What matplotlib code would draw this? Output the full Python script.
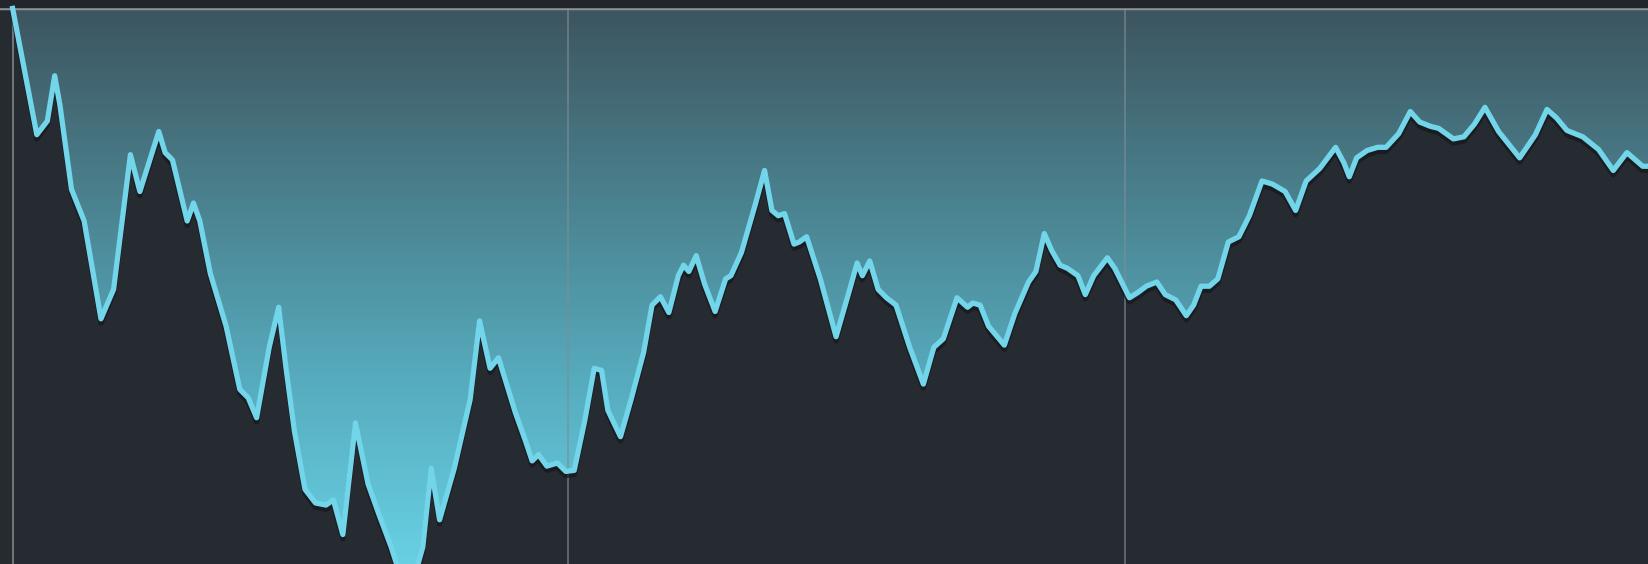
import matplotlib
matplotlib.use("Agg")
import matplotlib.pyplot as plt
import matplotlib.patheffects as pe
import numpy as np
from matplotlib.colors import LinearSegmentedColormap

# time index and level
t = [12, 22, 35, 45, 52, 57, 68, 72, 80, 96, 108, 124, 133, 151, 157, 164, 178, 184,
     190, 200, 215, 228, 236, 244, 256, 265, 272, 280, 290, 300, 310, 317, 326, 338,
     350, 360, 372, 380, 395, 402, 410, 418, 432, 447, 456, 466, 474, 490, 500, 506,
     512, 520, 530, 538, 546, 556, 565, 572, 578, 590, 600, 612, 620, 628, 636, 645,
     650, 655, 662, 670, 680, 690, 695, 705, 718, 727, 734, 740, 746, 755, 760, 767,
     780, 795, 808, 815, 820, 827, 835, 843, 852, 865, 878, 888, 897, 910, 920, 925,
     932, 940, 955, 965, 978, 985, 993, 1000, 1008, 1015, 1025, 1032, 1040, 1053, 1060,
     1074, 1082, 1090, 1100, 1108, 1118, 1128, 1135, 1142, 1150, 1158, 1168, 1178, 1188,
     1200, 1210, 1222, 1232, 1242, 1255, 1270, 1278, 1283, 1290, 1300, 1310, 1318, 1330,
     1341, 1350, 1360, 1368, 1382, 1392, 1402, 1412, 1425, 1445, 1460, 1471, 1480, 1490,
     1505, 1520, 1534, 1547, 1555, 1562, 1568]
depth = [8, 60, 128, 115, 72, 100, 180, 190, 210, 303, 275, 147, 182, 125, 145, 152, 210, 193,
         210, 260, 310, 370, 378, 397, 330, 292, 350, 410, 465, 478, 480, 475, 508, 402,
         460, 488, 520, 545, 545, 520, 445, 494, 445, 380, 305, 350, 340, 392, 420, 438,
         432, 443, 440, 448, 447, 400, 350, 352, 390, 415, 380, 335, 290, 282, 297, 262,
         252, 258, 243, 270, 296, 265, 262, 240, 195, 162, 200, 205, 203, 232, 230, 225,
         265, 320, 275, 250, 262, 248, 275, 283, 290, 330, 365, 330, 322, 283, 292, 288,
         290, 310, 328, 298, 268, 258, 222, 238, 252, 255, 262, 280, 262, 245, 255,
         283, 278, 272, 268, 280, 285, 300, 290, 272, 272, 265, 230, 225, 205,
         172, 175, 182, 200, 172, 160, 140, 155, 168, 150, 143, 140, 140, 127,
         106, 116, 120, 122, 132, 130, 118, 102, 125, 150, 128, 104, 112, 124,
         130, 142, 162, 145, 152, 158, 158]

H = 536
level = [H - d for d in depth]
top = H - 8
grid_x = [540, 1070]

bg = "#262a31"
fig = plt.figure(figsize=(16.49, 5.64), dpi=100)
fig.patch.set_facecolor(bg)
ax = fig.add_axes([0, 0, 1, 1])
ax.set_facecolor(bg)
ax.set_xlim(0, 1568)
ax.set_ylim(0, H)
ax.axis("off")

# gradient fill above the line
cmap = LinearSegmentedColormap.from_list("g", ["#68d0e3", "#56abbd", "#4a808d", "#3d555f"])
poly = ax.fill_between(t, level, top, color="none", lw=0)
grad = np.linspace(0, 1, 256).reshape(-1, 1)
im = ax.imshow(grad, extent=[0, 1568, 0, top], origin="lower", aspect="auto",
               cmap=cmap, zorder=1)
im.set_clip_path(poly.get_paths()[0], transform=ax.transData)

for gx in grid_x:
    ax.axvline(gx, color="#7d8e96", lw=1.2, alpha=0.7, zorder=2)
ax.axvline(12, color="#6f7479", lw=1.5, zorder=2)
ax.axhline(top, color="#8b9398", lw=2.5, zorder=2)
ax.axhspan(top + 1, H, color="#22262c", zorder=2)

ax.plot(t, level, color="#72d5ea", lw=3.8, solid_joinstyle="round", zorder=3,
        path_effects=[pe.SimpleLineShadow(offset=(0, -3), shadow_color="#14171b", alpha=0.7),
                      pe.Normal()])

fig.savefig("out.png", dpi=100, facecolor=bg)
